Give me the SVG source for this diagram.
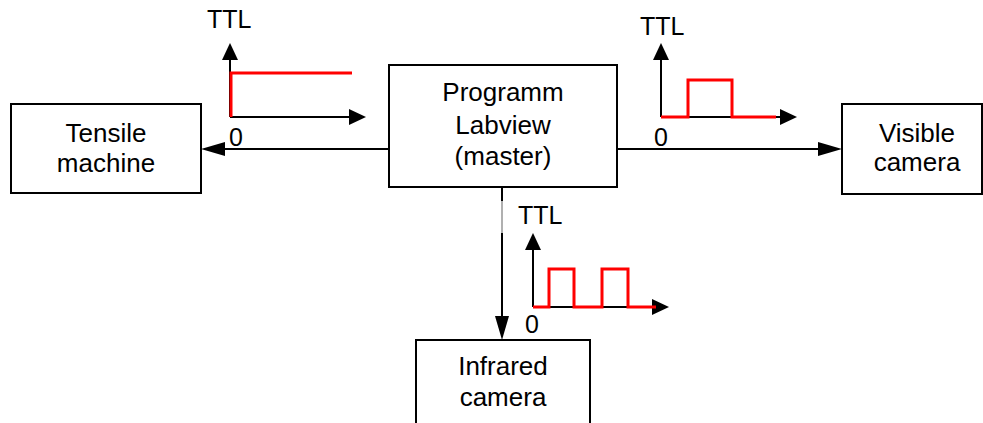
<svg xmlns="http://www.w3.org/2000/svg" width="983" height="423" viewBox="0 0 983 423">
<style>
.box{fill:#fff;stroke:#000;stroke-width:2}
.lbl{font-family:"Liberation Sans",Arial,sans-serif;font-size:26px;fill:#000;text-anchor:middle}
.plt{font-family:"Liberation Sans",Arial,sans-serif;font-size:25px;fill:#000}
.conn{stroke:#000;stroke-width:2;fill:none}
.axis{stroke:#000;stroke-width:2;fill:none}
.sig{stroke:#ff0000;stroke-width:3;fill:none;stroke-linejoin:miter}
</style>
<defs>
<marker id="big" markerUnits="userSpaceOnUse" markerWidth="24" markerHeight="14" refX="16" refY="7" orient="auto">
<path d="M0,0 L24,7 L0,14 z" fill="#000"/>
</marker>
<marker id="ax" markerUnits="userSpaceOnUse" markerWidth="17" markerHeight="16" refX="11" refY="8" orient="auto">
<path d="M0,0 L17,8 L0,16 z" fill="#000"/>
</marker>
<linearGradient id="vg" gradientUnits="userSpaceOnUse" x1="0" y1="187" x2="0" y2="340">
<stop offset="0.09" stop-color="#000"/>
<stop offset="0.09" stop-color="#b0b0b0"/>
<stop offset="0.30" stop-color="#b0b0b0"/>
<stop offset="0.30" stop-color="#000"/>
</linearGradient>
</defs>

<g id="connectors">
<line class="conn" x1="389" y1="149" x2="209" y2="149" marker-end="url(#big)"/>
<line class="conn" x1="617" y1="149" x2="834" y2="149" marker-end="url(#big)"/>
<line x1="502" y1="187" x2="502" y2="332" stroke="url(#vg)" stroke-width="2" marker-end="url(#big)"/>
</g>

<g id="tensile">
<rect class="box" x="11" y="104" width="190" height="89"/>
<text class="lbl" x="106" y="142">Tensile</text>
<text class="lbl" x="106" y="172">machine</text>
</g>

<g id="labview">
<rect class="box" x="389" y="65" width="228" height="122"/>
<text class="lbl" x="503" y="101">Programm</text>
<text class="lbl" x="503" y="134">Labview</text>
<text class="lbl" x="503" y="165">(master)</text>
</g>

<g id="visible">
<rect class="box" x="842" y="104" width="140" height="90"/>
<text class="lbl" x="917" y="142">Visible</text>
<text class="lbl" x="917" y="171">camera</text>
</g>

<g id="infrared">
<rect class="box" x="416" y="340" width="174" height="90"/>
<text class="lbl" x="503" y="375">Infrared</text>
<text class="lbl" x="503" y="406">camera</text>
</g>

<g id="plot-tensile">
<text class="plt" x="207" y="28">TTL</text>
<line class="axis" x1="230" y1="117" x2="230" y2="49" marker-end="url(#ax)"/>
<line class="axis" x1="230" y1="117" x2="360" y2="117" marker-end="url(#ax)"/>
<polyline class="sig" points="231,117 231,73 352,73"/>
<text class="plt" x="229" y="146">0</text>
</g>

<g id="plot-visible">
<text class="plt" x="640" y="35">TTL</text>
<line class="axis" x1="661" y1="117" x2="661" y2="49" marker-end="url(#ax)"/>
<line class="axis" x1="661" y1="117" x2="791" y2="117" marker-end="url(#ax)"/>
<polyline class="sig" points="661,117 688,117 688,80 732,80 732,117 776,117"/>
<text class="plt" x="654" y="146">0</text>
</g>

<g id="plot-infrared">
<text class="plt" x="518" y="224">TTL</text>
<line class="axis" x1="533" y1="307" x2="533" y2="239" marker-end="url(#ax)"/>
<line class="axis" x1="533" y1="307" x2="663" y2="307" marker-end="url(#ax)"/>
<polyline class="sig" points="533,307 549,307 549,269 574,269 574,307 602,307 602,269 628,269 628,307 656,307"/>
<text class="plt" x="525" y="333">0</text>
</g>
</svg>
